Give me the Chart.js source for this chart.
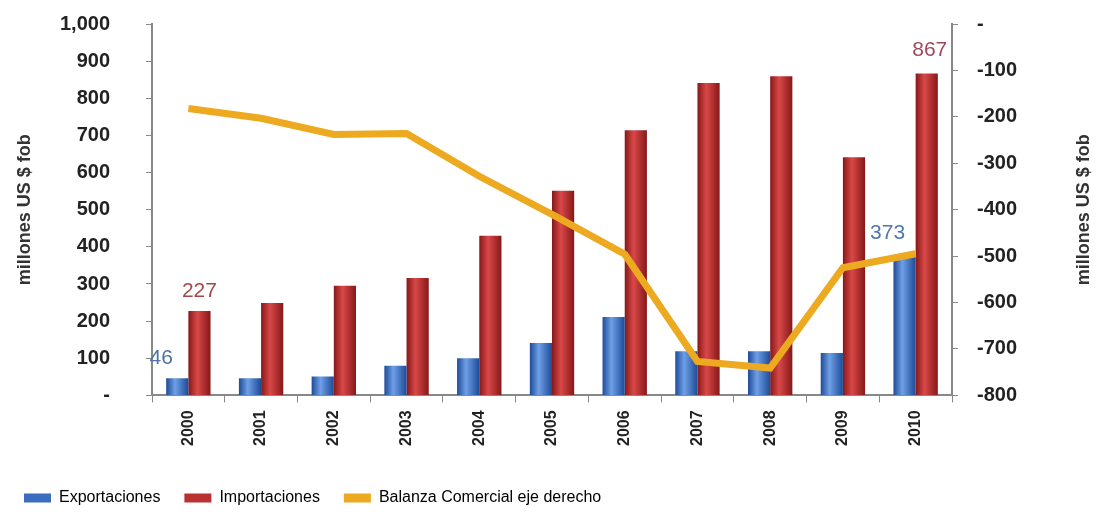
<!DOCTYPE html>
<html>
<head>
<meta charset="utf-8">
<script src="https://cdn.jsdelivr.net/npm/chart.js@4.4.0/dist/chart.umd.min.js"></script>
<style>
html, body { margin:0; padding:0; background:#fff; }
#wrap { width:1098px; height:518px; position:relative; }
</style>
</head>
<body>
<div id="wrap"><canvas id="chart"></canvas></div>
<script>
// Data (millones US $ fob)
const years = ['2000','2001','2002','2003','2004','2005','2006','2007','2008','2009','2010'];
const exportaciones = [46, 46, 51, 80, 100, 141, 211, 119, 119, 114, 373];
const importaciones = [227, 249, 295, 316, 430, 551, 714, 841, 859, 641, 867];
const balanza = [-182, -203, -238, -236, -328, -410, -496, -727, -741, -525, -495];

const F = "'Liberation Sans', Arial, sans-serif";
const CAT_PCT = 0.61;

// cylinder-ish fill for each bar, side 0 = left bar, 1 = right bar
function barFill(side, dark, light) {
    return function (c) {
        const chart = c.chart;
        if (!chart.chartArea || c.dataIndex === undefined) return dark;
        const xs = chart.scales.x;
        const w = xs.width / years.length * CAT_PCT / 2;
        const cx = xs.getPixelForValue(c.dataIndex);
        const left = side === 0 ? cx - w : cx;
        const g = chart.ctx.createLinearGradient(left, 0, left + w, 0);
        g.addColorStop(0, dark);
        g.addColorStop(0.4, light);
        g.addColorStop(1, dark);
        return g;
    };
}

// value labels shown on the chart (dataset index, data index, colour, offsets)
const shownLabels = [
    {ds:0, i:0,  color:'#4f73a6', dx:-16, dy:-20},
    {ds:1, i:0,  color:'#a34848', dx:0,   dy:-20},
    {ds:0, i:10, color:'#4f78aa', dx:-17, dy:-24},
    {ds:1, i:10, color:'#a0485a', dx:3,   dy:-23}
];

const extras = {
    id: 'extras',
    afterDatasetsDraw(chart) {
        const c = chart.ctx;
        c.save();
        c.font = '21px ' + F;
        c.textAlign = 'center';
        c.textBaseline = 'middle';
        shownLabels.forEach(l => {
            const el = chart.getDatasetMeta(l.ds).data[l.i];
            c.fillStyle = l.color;
            c.fillText(String(chart.data.datasets[l.ds].data[l.i]), el.x + l.dx, el.y + l.dy);
        });
        // right axis title, reads bottom to top
        const a = chart.chartArea;
        c.translate(1084, (a.top + a.bottom) / 2);
        c.rotate(-Math.PI / 2);
        c.font = 'bold 18px ' + F;
        c.fillStyle = '#333';
        c.fillText('millones US $ fob', 0, 0);
        c.restore();
    }
};

// keep the big tick padding from pushing the plot down
function fixY(width) {
    return s => { s.width = width; s.paddingTop = 12; s.paddingBottom = 12; };
}

const chart = new Chart(document.getElementById('chart'), {
    type: 'bar',
    data: {
        labels: years,
        datasets: [
            { label:'Exportaciones', data: exportaciones, yAxisID:'y', order:1,
              backgroundColor: barFill(0, '#1d4b98', '#6f9fe6'), barPercentage:1, categoryPercentage:CAT_PCT },
            { label:'Importaciones', data: importaciones, yAxisID:'y', order:1,
              backgroundColor: barFill(1, '#861818', '#d94848'), barPercentage:1, categoryPercentage:CAT_PCT },
            { type:'line', label:'Balanza Comercial eje derecho', data: balanza, yAxisID:'y2', order:0,
              borderColor:'#eda91f', backgroundColor:'#eda91f', borderWidth:7, pointRadius:0, tension:0 }
        ]
    },
    plugins: [extras],
    options: {
        responsive: true,
        maintainAspectRatio: false,
        animation: false,
        layout: { padding: { top:24, left:0, right:0, bottom:2 } },
        plugins: {
            tooltip: { enabled:false },
            legend: {
                position: 'bottom',
                align: 'start',
                labels: {
                    boxWidth: 27, boxHeight: 9, padding: 24,
                    color: '#333', font: { family: F, size: 16 },
                    generateLabels: () => [
                        { text:'Exportaciones', fillStyle:'#3a6cc0', strokeStyle:'#3a6cc0', lineWidth:0, datasetIndex:0 },
                        { text:'Importaciones', fillStyle:'#b83232', strokeStyle:'#b83232', lineWidth:0, datasetIndex:1 },
                        { text:'Balanza Comercial eje derecho', fillStyle:'#eda91f', strokeStyle:'#eda91f', lineWidth:0, datasetIndex:2 }
                    ]
                }
            }
        },
        scales: {
            x: {
                grid: { drawOnChartArea:false, tickLength:7, color:'#888', offset:true },
                border: { color:'#888', width:2 },
                ticks: { minRotation:90, maxRotation:90, padding:8, color:'#222', font:{ family:F, size:16, weight:'bold' } },
                afterFit: s => { s.height += 12; }
            },
            y: {
                position: 'left', min: 0, max: 1000,
                grid: { drawOnChartArea:false, tickLength:6, color:'#888' },
                border: { color:'#888', width:2 },
                ticks: { stepSize:100, padding:36, color:'#222', font:{ family:F, size:20, weight:'bold' },
                         callback: v => v === 0 ? '-' : v.toLocaleString('en-US') },
                title: { display:true, text:'millones US $ fob', color:'#333', padding:{ top:14, bottom:0 }, font:{ family:F, size:18, weight:'bold' } },
                afterFit: fixY(152)
            },
            y2: {
                position: 'right', min: -800, max: 0,
                grid: { drawOnChartArea:false, tickLength:6, color:'#888' },
                border: { color:'#888', width:2 },
                ticks: { stepSize:100, padding:19, color:'#222', font:{ family:F, size:20, weight:'bold' },
                         callback: v => v === 0 ? '-' : String(v) },
                afterFit: fixY(146)
            }
        }
    }
});
</script>
</body>
</html>
